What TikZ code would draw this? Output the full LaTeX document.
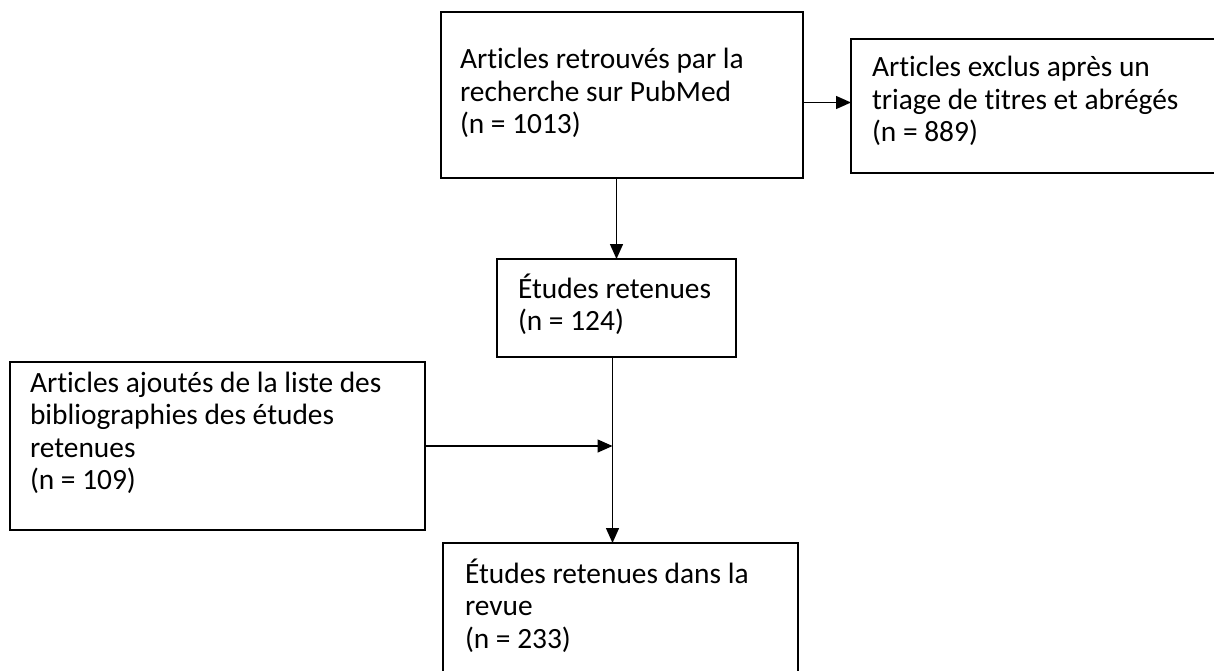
\documentclass[tikz,border=0pt]{standalone}
\usepackage{fontspec}
\setmainfont{Carlito}[Ligatures=NoCommon]
\usetikzlibrary{arrows.meta}
\newcommand{\boxtxt}[5]{%
  \begin{minipage}[t][#2][t]{#1}\raggedright\setlength{\leftskip}{#4}%
  \fontsize{29.4pt}{32.5pt}\selectfont\rule{0pt}{#3}#5\end{minipage}}
\begin{document}
\begin{tikzpicture}[x=1pt,y=-1pt,
  box/.style={draw,line width=2.2pt,inner sep=0pt,outer sep=0pt,anchor=north west},
  arr/.style={line width=1.4pt,-{Triangle[length=15pt,width=13pt]}}]
\clip (0,0) rectangle (1214,671);
\fill[white] (0,0) rectangle (1214,671);
\node[box] (b1) at (441,12) {\boxtxt{362pt}{166pt}{57pt}{19pt}{Articles retrouvés par la\\recherche sur PubMed\\(n = 1013)}};
\node[box] (b2) at (851,39) {\boxtxt{380pt}{134pt}{38pt}{21pt}{Articles exclus après un\\triage de titres et abrégés\\(n = 889)}};
\node[box] (b3) at (497,259) {\boxtxt{239pt}{98pt}{39pt}{21pt}{Études retenues\\(n = 124)}};
\node[box] (b4) at (10,362) {\boxtxt{415pt}{168pt}{30pt}{20pt}{Articles ajoutés de la liste des\\bibliographies des études\\retenues\\(n = 109)}};
\node[box] (b5) at (443,543) {\boxtxt{355pt}{160pt}{40pt}{22pt}{Études retenues dans la\\revue\\(n = 233)}};
\coordinate (m) at (612.5,446);
\draw[arr] ([yshift=3.5pt]b2.west -| b1.east) -- ([yshift=3.5pt]b2.west);
\draw[arr] (b1.south -| b3.north) -- (b3.north);
\draw[line width=1.4pt] (b3.south -| m) -- (m);
\draw[arr] (m) -- (b5.north -| m);
\draw[arr] (b4.east) -- (b4.east -| m);
\end{tikzpicture}
\end{document}
